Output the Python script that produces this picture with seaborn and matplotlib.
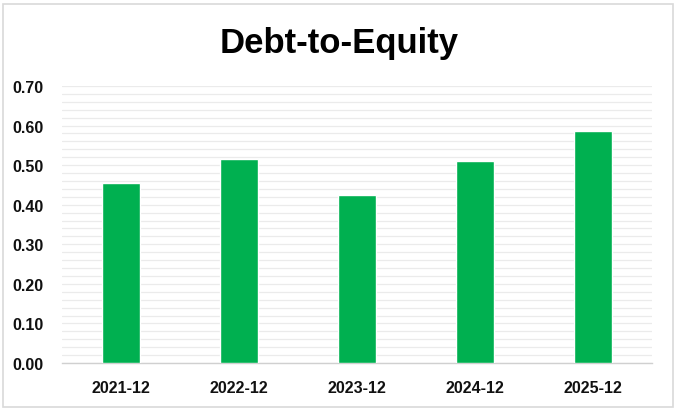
import matplotlib
matplotlib.use("Agg")
import matplotlib.pyplot as plt
import seaborn as sns
import pandas as pd
import numpy as np
from matplotlib.patches import Rectangle

periods = ["2021-12", "2022-12", "2023-12", "2024-12", "2025-12"]
debt_to_equity = [0.455, 0.515, 0.424, 0.510, 0.586]
yticks = [0.0, 0.1, 0.2, 0.3, 0.4, 0.5, 0.6, 0.7]

df = pd.DataFrame({"period": periods, "value": debt_to_equity})

sns.set_theme(style="white")
plt.rcParams["font.family"] = ["Liberation Sans", "DejaVu Sans"]

fig = plt.figure(figsize=(6.78, 4.14), dpi=100)
ax = fig.add_axes([62/678, 1 - 364/414, 590/678, (364-87)/414])

sns.barplot(data=df, x="period", y="value", color="#00B050", width=0.33,
            saturation=1, ax=ax, zorder=3)

ax.set_ylim(0, 0.7)
ax.set_xlim(-0.5, 4.5)
ax.set_yticks(yticks)
ax.set_yticklabels([f"{v:.2f}" for v in yticks])
ax.set_yticks(np.arange(0, 0.7001, 0.02), minor=True)
ax.grid(axis="y", which="both", color="#EBEBEB", linewidth=0.9, zorder=0)
ax.set_axisbelow(True)
for s in ["top", "right", "left"]:
    ax.spines[s].set_visible(False)
ax.spines["bottom"].set_color("#D0D0D0")
ax.spines["bottom"].set_linewidth(1.0)
ax.tick_params(axis="both", which="both", length=0)
ax.tick_params(axis="y", pad=13)
ax.tick_params(axis="x", pad=12)
for lab in ax.get_xticklabels() + ax.get_yticklabels():
    lab.set_fontweight("bold")
    lab.set_fontsize(11.5)
    lab.set_color("#111111")
ax.set_xlabel("")
ax.set_ylabel("")

fig.text(0.5, 1 - 44/414, "Debt-to-Equity", ha="center", va="center",
         fontsize=25, fontweight="bold", color="#000000")

fig.patches.append(Rectangle((3/678, 1 - 408/414), 670/678, 403/414,
                             transform=fig.transFigure, fill=False,
                             edgecolor="#D9D9D9", linewidth=1.2))

fig.savefig("out.png", dpi=100)
